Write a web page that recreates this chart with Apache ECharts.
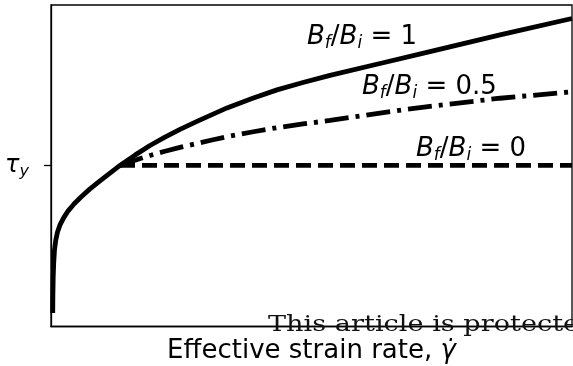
<!DOCTYPE html>
<html><head><meta charset="utf-8">
<script src="https://cdn.jsdelivr.net/npm/echarts@6/dist/echarts.min.js"></script>
<style>html,body{margin:0;padding:0;background:#fff}#c{width:573px;height:366px}</style>
</head><body><div id="c"></div>
<script>
// Effective strain rate (arbitrary units, 0..100) and yield-stress curves (0..100)
const strainRate = [0.33, 0.36, 0.42, 0.52, 0.67, 0.92, 1.25, 1.73, 2.40, 3.26, 4.41, 5.76, 7.49, 9.40, 11.32, 13.24, 16.12, 19.0, 21.88, 24.76, 28.02, 30.9, 33.78, 38.58, 43.38, 48.37, 53.55, 63.15, 72.74, 86.18, 100];
const stressRatio1 = [4.2, 9.8, 15.1, 19.8, 23.8, 26.9, 29.4, 31.6, 33.7, 35.9, 38.1, 40.3, 42.8, 45.3, 47.7, 50.1, 53.3, 56.3, 58.9, 61.3, 63.8, 65.9, 68.0, 70.9, 73.6, 75.9, 78.1, 81.8, 85.5, 90.7, 95.8];
const strainRateBranch = [13.24, 16.12, 19.0, 21.88, 24.76, 28.02, 30.9, 33.78, 38.58, 43.38, 48.37, 53.55, 63.15, 72.74, 86.18, 100];
const stressRatio05 = [50.1, 51.7, 53.2, 54.5, 55.7, 56.95, 58.0, 59.05, 60.5, 61.85, 63.0, 64.1, 66.4, 68.5, 71.0, 73.0];
const strainRateFlat = [13.24, 100];
const stressRatio0 = [50.1, 50.1];
const yieldTicks = [50.1];
const seriesNames = ['B_f/B_i = 1', 'B_f/B_i = 0.5', 'B_f/B_i = 0'];

const zip = (xs, ys) => xs.map((x, i) => [x, ys[i]]);
const F = 'DejaVu Sans';
const mathRich = {
  b: {fontFamily: F, fontStyle: 'italic', fontSize: 26, color: '#000'},
  s: {fontFamily: F, fontStyle: 'italic', fontSize: 17, color: '#000', padding: [13, 0, 0, 0]},
  n: {fontFamily: F, fontSize: 26, color: '#000'}
};
function mathLabel(val) {
  return '{b|B}{s|f}{n|/}{b|B}{s|i}{n| = ' + val + '}';
}

const chart = echarts.init(document.getElementById('c'), null, {renderer: 'canvas'});
chart.setOption({
  animation: false,
  backgroundColor: '#fff',
  grid: {left: 51, right: 1, top: 5, bottom: 39.5, outerBoundsMode: 'none', containLabel: false,
    show: true, borderColor: '#000', borderWidth: 1.3, backgroundColor: 'transparent'},
  xAxis: {
    type: 'value', min: 0, max: 100,
    axisLine: {show: true, lineStyle: {color: '#000', width: 1.3}},
    axisTick: {show: false}, axisLabel: {show: false}, splitLine: {show: false},
    name: 'Effective strain rate, {g|γ̇}', nameLocation: 'middle', nameGap: 12,
    nameTextStyle: {fontFamily: F, fontSize: 26, color: '#000',
      rich: {g: {fontFamily: F, fontStyle: 'italic', fontSize: 26, color: '#000'}}}
  },
  yAxis: {
    type: 'value', min: 0, max: 100,
    axisLine: {show: true, lineStyle: {color: '#000', width: 1.3}},
    axisTick: {show: true, length: 7, lineStyle: {color: '#000', width: 1.3}, customValues: yieldTicks},
    axisLabel: {show: true, margin: 22, customValues: yieldTicks,
      formatter: () => '{t|τ}{s|y}',
      rich: {
        t: {fontFamily: F, fontStyle: 'italic', fontSize: 24, color: '#000'},
        s: {fontFamily: F, fontStyle: 'italic', fontSize: 16, color: '#000', padding: [13, 0, 0, 0]}
      }},
    splitLine: {show: false}
  },
  series: [
    {name: seriesNames[0], type: 'line', data: zip(strainRate, stressRatio1), showSymbol: false,
      lineStyle: {color: '#000', width: 4.8, cap: 'butt', join: 'round'}, z: 3},
    {name: seriesNames[1], type: 'line', data: zip(strainRateBranch, stressRatio05), showSymbol: false,
      lineStyle: {color: '#000', width: 4.8, type: [24, 7, 4, 7], cap: 'butt'}, z: 2},
    {name: seriesNames[2], type: 'line', data: zip(strainRateFlat, stressRatio0), showSymbol: false,
      lineStyle: {color: '#000', width: 4.8, type: [15, 7], cap: 'butt'}, z: 2}
  ],
  graphic: [
    {type: 'text', left: 307, top: 24, style: {text: mathLabel('1'), rich: mathRich}},
    {type: 'text', left: 362, top: 74, style: {text: mathLabel('0.5'), rich: mathRich}},
    {type: 'text', left: 416, top: 136, style: {text: mathLabel('0'), rich: mathRich}},
    {type: 'text', x: 268, y: 314, scaleX: 1.18, z: 100,
      style: {x: 0, y: 0, verticalAlign: 'top', text: 'This article is protected by copyright. All rights reserved.', fontFamily: 'DejaVu Serif', fontSize: 23, fill: '#111'}}
  ]
});
</script></body></html>
